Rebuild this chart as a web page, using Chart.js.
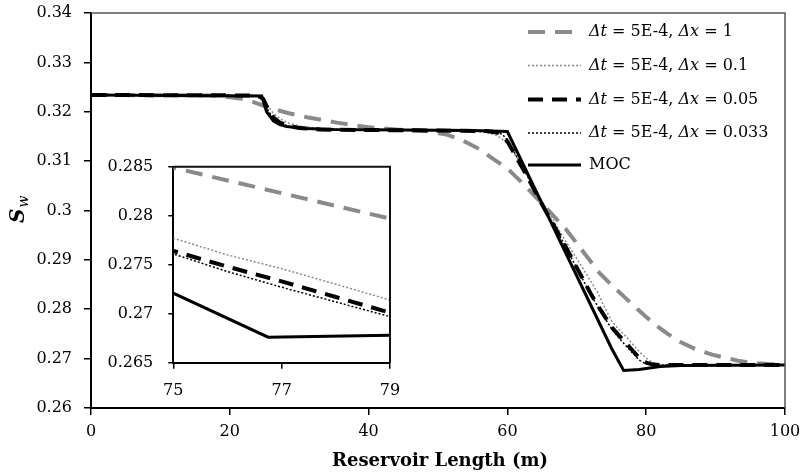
<!DOCTYPE html>
<html>
<head>
<meta charset="utf-8">
<script src="https://cdn.jsdelivr.net/npm/chart.js@4"></script>
<style>
  body { margin: 0; background: #fff; }
  #wrap { position: relative; width: 803px; height: 473px; }
  #mainChart { position: absolute; left: 0; top: 0; }
  #insetChart { position: absolute; left: 100px; top: 155px; }
</style>
</head>
<body>
<div id="wrap">
  <canvas id="mainChart" width="803" height="473"></canvas>
  <canvas id="insetChart" width="300" height="250"></canvas>
</div>
<script>
// values: water saturation vs reservoir length
const xDx1 = [0, 18, 21.5, 23.3, 26.2, 28.5, 31.1, 35.4, 39.7, 44, 48.4, 51.2, 53.5, 56, 58, 60, 62, 65, 68.5, 71, 73.3, 75, 77, 79, 81, 83, 85, 87.3, 89.5, 91.6, 93.5, 95.4, 97.5, 100];
const swDx1 = [0.3234, 0.3233, 0.3227, 0.3220, 0.3206, 0.3197, 0.3189, 0.3178, 0.3169, 0.3164, 0.3161, 0.3154, 0.3142, 0.3124, 0.3104, 0.3085, 0.3058, 0.3014, 0.2961, 0.2915, 0.2873, 0.2849, 0.2823, 0.2797, 0.2772, 0.2751, 0.2733, 0.2718, 0.2708, 0.2701, 0.2695, 0.2691, 0.2689, 0.2688];

const xDx01 = [0, 23.5, 24.5, 25.3, 26.2, 27.2, 28.5, 30, 33, 38, 45, 52, 55, 57, 58.5, 59.5, 60.5, 61.5, 63, 65, 68, 71, 73, 74, 75, 76, 77, 78, 79, 80, 81, 82, 84, 100];
const swDx01 = [0.3234, 0.3233, 0.3229, 0.3215, 0.3198, 0.3186, 0.3177, 0.3171, 0.3166, 0.3164, 0.3163, 0.3162, 0.3161, 0.3158, 0.3152, 0.3142, 0.3126, 0.3104, 0.3068, 0.3019, 0.2947, 0.2880, 0.2834, 0.2804, 0.2777, 0.2760, 0.2746, 0.2730, 0.2714, 0.2701, 0.2692, 0.2688, 0.2687, 0.2687];

// dx = 0.05 and dx = 0.033 share the same x points
const xFine = [0, 24, 24.8, 25.5, 26.3, 27.2, 28.5, 30, 33, 40, 50, 57, 58.5, 59.3, 60, 61, 62.5, 65, 68, 70, 72, 73, 74, 75, 76, 77, 78, 79, 80, 81, 82, 100];
const swDx005 = [0.3234, 0.3233, 0.3226, 0.3206, 0.3188, 0.3178, 0.3171, 0.3167, 0.3164, 0.3163, 0.3162, 0.3161, 0.3158, 0.3152, 0.3140, 0.3115, 0.3078, 0.3012, 0.2937, 0.2884, 0.2832, 0.2808, 0.2786, 0.2764, 0.2748, 0.2733, 0.2717, 0.2701, 0.2692, 0.2688, 0.2687, 0.2687];
const swDx0033 = [0.3234, 0.3233, 0.3224, 0.3203, 0.3186, 0.3177, 0.3170, 0.3166, 0.3164, 0.3163, 0.3162, 0.3161, 0.3159, 0.3154, 0.3143, 0.3118, 0.3080, 0.3013, 0.2937, 0.2883, 0.2830, 0.2806, 0.2783, 0.2761, 0.2743, 0.2727, 0.2712, 0.2697, 0.2689, 0.2687, 0.2687, 0.2687];

const xMoc = [0, 24.6, 25.3, 26.3, 27.2, 28.2, 31, 35, 45, 55, 60, 75, 76.75, 79, 82, 85, 100];
const swMoc = [0.3234, 0.3232, 0.3200, 0.3181, 0.3174, 0.3170, 0.3166, 0.3164, 0.3163, 0.3162, 0.3160, 0.2721, 0.2676, 0.2678, 0.2684, 0.2686, 0.2687];

const dxLabels = ['1', '0.1', '0.05', '0.033', null];

const FONT = "'DejaVu Serif', Georgia, serif";

function pts(xs, ys) {
    return xs.map((x, i) => ({ x: x, y: ys[i] }));
}

function makeDatasets() {
    return [
        { label: 'dx1', data: pts(xDx1, swDx1), borderColor: '#8a8a8a', borderWidth: 4, borderDash: [17, 10], order: 5 },
        { label: 'dx01', data: pts(xDx01, swDx01), borderColor: '#8a8a8a', borderWidth: 1.5, borderDash: [2, 2], order: 4 },
        { label: 'dx005', data: pts(xFine, swDx005), borderColor: '#000', borderWidth: 4, borderDash: [15, 9], order: 3 },
        { label: 'dx0033', data: pts(xFine, swDx0033), borderColor: '#000', borderWidth: 1.5, borderDash: [2, 2], order: 2 },
        { label: 'MOC', data: pts(xMoc, swMoc), borderColor: '#000', borderWidth: 3, borderDash: [], order: 1 }
    ].map(d => Object.assign(d, { showLine: true, pointRadius: 0, fill: false, tension: 0, borderCapStyle: 'butt' }));
}

const fmt = v => String(Math.round(v * 1000) / 1000);

// top/right frame of a plot area
function framePlugin(color, width) {
    return {
        id: 'frame',
        afterDraw(chart) {
            const a = chart.chartArea, c = chart.ctx;
            c.save();
            c.strokeStyle = color;
            c.lineWidth = width;
            c.beginPath();
            c.moveTo(a.left, a.top);
            c.lineTo(a.right, a.top);
            c.lineTo(a.right, a.bottom);
            c.stroke();
            c.restore();
        }
    };
}

// legend with italic Δt / Δx, and the axis titles
const extrasPlugin = {
    id: 'extras',
    afterDraw(chart) {
        const c = chart.ctx;
        const rows = [32, 65.5, 99.5, 133, 165];
        const sets = chart.data.datasets;
        c.save();
        rows.forEach((y, i) => {
            const ds = sets[i];
            c.strokeStyle = ds.borderColor;
            c.lineWidth = ds.borderWidth;
            c.lineCap = 'butt';
            c.setLineDash(ds.borderDash || []);
            c.beginPath();
            c.moveTo(528, y);
            c.lineTo(581, y);
            c.stroke();
            c.setLineDash([]);
            c.fillStyle = '#000';
            c.textBaseline = 'middle';
            let x = 589;
            const parts = dxLabels[i]
                ? [['Δt', true], [' = 5E-4, ', false], ['Δx', true], [' = ' + dxLabels[i], false]]
                : [['MOC', false]];
            parts.forEach(p => {
                c.font = (p[1] ? 'italic ' : '') + '16px ' + FONT;
                c.fillText(p[0], x, y);
                x += c.measureText(p[0]).width;
            });
        });

        // x title
        c.font = 'bold 18px ' + FONT;
        c.textAlign = 'center';
        c.textBaseline = 'alphabetic';
        c.fillText('Reservoir Length (m)', 440, 466);

        // y title S_w
        c.translate(24, 223);
        c.rotate(-Math.PI / 2);
        c.textAlign = 'left';
        c.font = 'bold italic 20px ' + FONT;
        c.fillText('S', 0, 0);
        const sw = c.measureText('S').width;
        c.font = 'italic 14px ' + FONT;
        c.fillText('w', sw + 1, 4);
        c.restore();
    }
};

// fixed axis sizes; drop the label overhang padding so the plot box lands where the reference has it
function fixX(h) {
    return s => { s.height = h; s.paddingLeft = 0; s.paddingRight = 0; };
}
function fixY(w) {
    return s => { s.width = w; s.paddingTop = 0; s.paddingBottom = 0; };
}

function axisStyle(extra) {
    return Object.assign({
        type: 'linear',
        border: { display: true, color: '#000', width: 2 }
    }, extra);
}

new Chart(document.getElementById('mainChart'), {
    type: 'scatter',
    data: { datasets: makeDatasets() },
    options: {
        responsive: false,
        animation: false,
        layout: { padding: { left: 0, top: 13, right: 18, bottom: 0 } },
        plugins: { legend: { display: false }, tooltip: { enabled: false } },
        scales: {
            x: axisStyle({
                min: 0, max: 100,
                grid: { drawOnChartArea: false, color: '#000', lineWidth: 1.5, tickLength: 7 },
                ticks: { color: '#000', stepSize: 20, padding: 7, maxRotation: 0, font: { family: FONT, size: 16 }, callback: fmt },
                afterFit: fixX(65)
            }),
            y: axisStyle({
                min: 0.26, max: 0.34,
                grid: { drawOnChartArea: false, color: '#000', lineWidth: 1.5, tickLength: 7 },
                ticks: { color: '#000', stepSize: 0.01, padding: 12, font: { family: FONT, size: 16 }, callback: fmt },
                afterFit: fixY(91)
            })
        }
    },
    plugins: [framePlugin('#555', 1.5), extrasPlugin]
});

new Chart(document.getElementById('insetChart'), {
    type: 'scatter',
    data: { datasets: makeDatasets() },
    options: {
        responsive: false,
        animation: false,
        layout: { padding: { left: 0, top: 11.7, right: 10, bottom: 0 } },
        plugins: { legend: { display: false }, tooltip: { enabled: false } },
        scales: {
            x: axisStyle({
                min: 75, max: 79,
                grid: { drawOnChartArea: false, color: '#000', lineWidth: 1.5, tickLength: 6 },
                ticks: { color: '#000', stepSize: 2, padding: 13, maxRotation: 0, font: { family: FONT, size: 16 }, callback: fmt },
                afterFit: fixX(42.3)
            }),
            y: axisStyle({
                min: 0.265, max: 0.285,
                grid: { drawOnChartArea: false, color: '#000', lineWidth: 1.5, tickLength: 5 },
                ticks: { color: '#000', stepSize: 0.005, padding: 15, font: { family: FONT, size: 16 }, callback: fmt },
                afterFit: fixY(73.3)
            })
        }
    },
    plugins: [framePlugin('#111', 2)]
});
</script>
</body>
</html>
